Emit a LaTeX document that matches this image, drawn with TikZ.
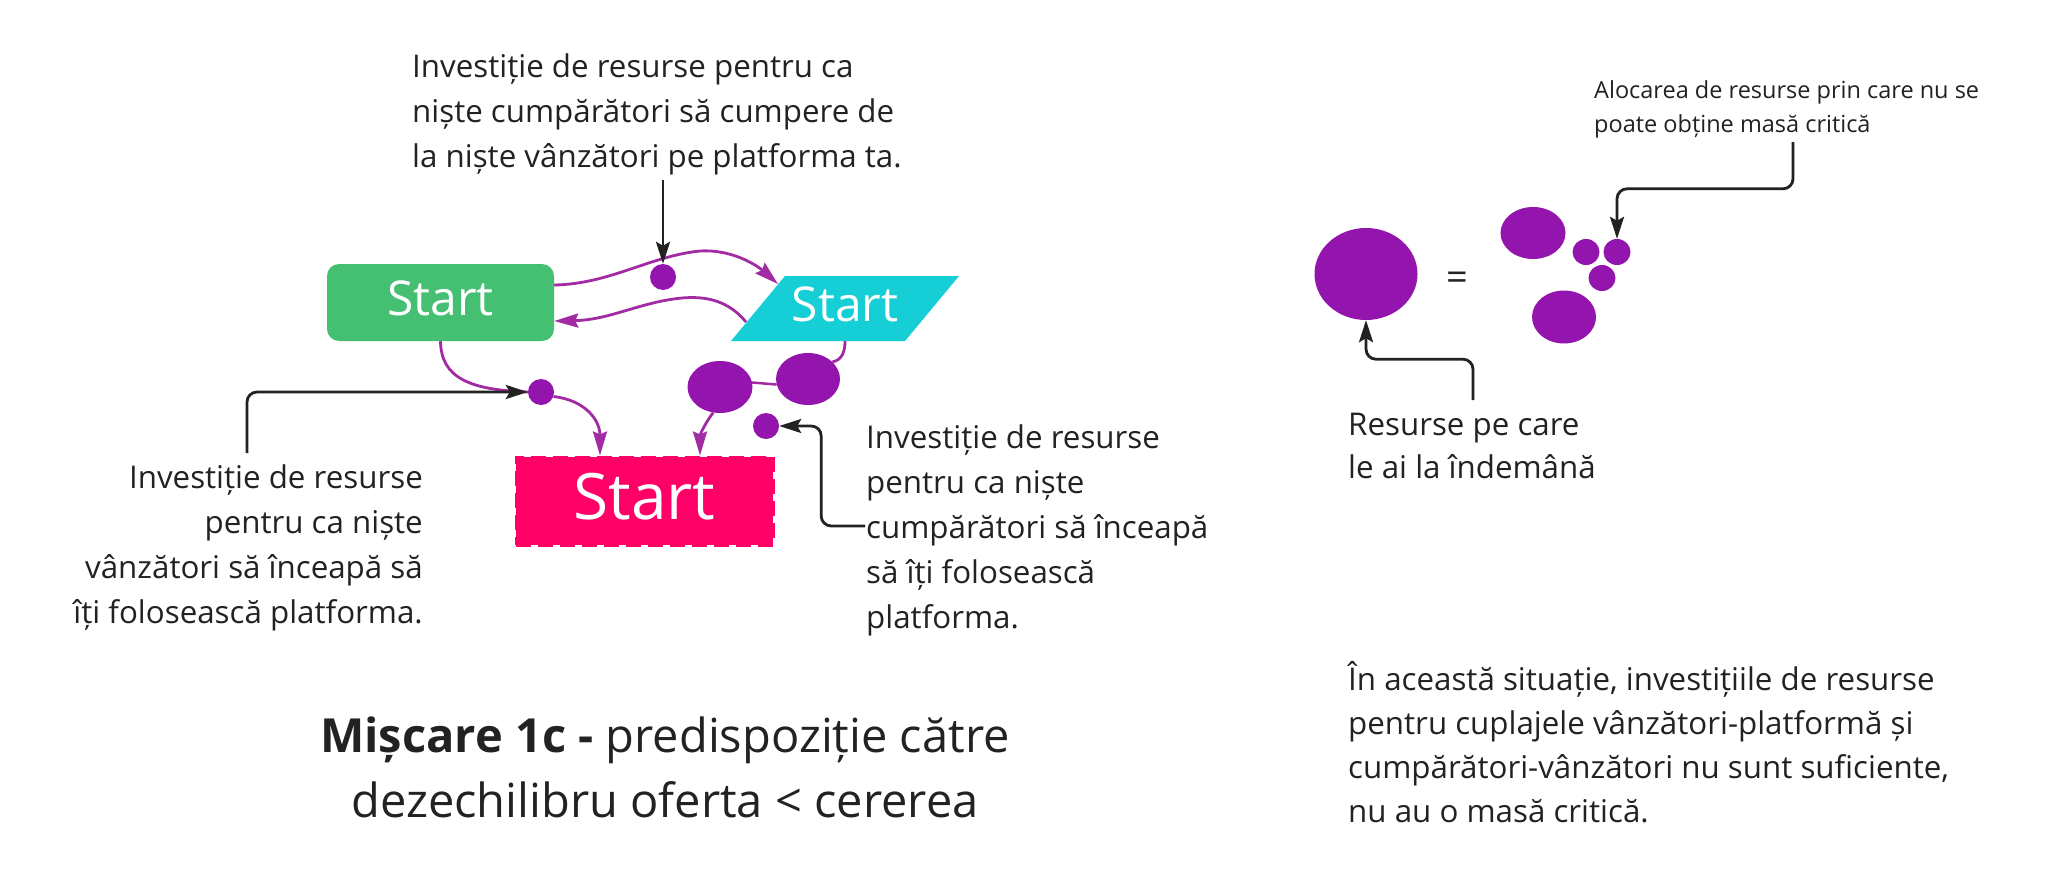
\documentclass[tikz,border=0pt]{standalone}
\usepackage{fontspec}
\setmainfont{Open Sans}
\usetikzlibrary{arrows.meta,shapes.geometric,backgrounds}
\definecolor{gr}{HTML}{45BF72}
\definecolor{cy}{HTML}{16CED6}
\definecolor{pk}{HTML}{FF0066}
\definecolor{pu}{HTML}{9414AE}
\definecolor{pl}{HTML}{A22BA3}
\definecolor{tx}{HTML}{222222}
\begin{document}
\begin{tikzpicture}[x=1pt,y=-1pt,
  pc/.style={draw=pl,line width=2.8pt,-{Stealth[length=24pt,width=14pt,inset=3pt]}},
  pcn/.style={draw=pl,line width=2.8pt},
  bc/.style={draw=tx,line width=2.8pt,rounded corners=10pt,-{Stealth[length=22pt,width=14pt,inset=4pt]}},
  dot/.style={circle,fill=pu,inner sep=0,minimum size=26pt},
  blob/.style={ellipse,fill=pu,inner sep=0},
  txt/.style={inner sep=0,text=tx,align=left,anchor=base west},
]
\useasboundingbox (0,0) rectangle (2060,894);

% shapes
\node[fill=gr,rounded corners=12pt,minimum width=227pt,minimum height=77pt,inner sep=0,
  text=white,font=\fontsize{48}{52}\selectfont,text depth=8pt] (g) at (440.5,302.5) {Start};
\fill[cy] (731,341) -- (785,276) -- (959,276) -- (905,341) -- cycle;
\node[inner sep=0,text=white,font=\fontsize{48}{52}\selectfont,text depth=8pt] (c) at (845,308.5) {Start};
\coordinate (cL) at (746,322);
\coordinate (cT) at (778,284);
\coordinate (cB) at (845,341);
\node[fill=pk,draw=pk,line width=3pt,dash pattern=on 15pt off 7pt,minimum width=257pt,
  minimum height=88pt,inner sep=0,text=white,font=\fontsize{64}{68}\selectfont,
  text depth=10pt] (p) at (644.5,501) {Start};

\node[dot] (d1) at (663,277) {};
\node[dot] (d2) at (541,392) {};
\node[dot] (d3) at (766,426) {};
\node[blob,minimum width=65pt,minimum height=52pt] (eA) at (720,387) {};
\node[blob,minimum width=64pt,minimum height=52pt] (eB) at (808,379) {};

% right side
\node[blob,minimum width=103pt,minimum height=92pt] (R) at (1366,274) {};
\node[inner sep=0,text=tx,font=\fontsize{38}{40}\selectfont] (eq) at (1457,281) {=};
\node[blob,minimum width=65pt,minimum height=52pt] (r1) at (1533,233) {};
\node[blob,minimum width=27pt,minimum height=26pt] (s1) at (1586,252) {};
\node[blob,minimum width=27pt,minimum height=26pt] (s2) at (1617,252) {};
\node[blob,minimum width=27pt,minimum height=26pt] (s3) at (1602,278) {};
\node[blob,minimum width=64pt,minimum height=53pt] (r2) at (1564,317) {};

% texts (base anchor = baseline of the last line)
\node[txt,font=\fontsize{31.3}{45}\selectfont] (t1) at (412,167)
  {Investiție de resurse pentru ca\\niște cumpărători să cumpere de\\la niște vânzători pe platforma ta.};
\node[txt,align=right,anchor=base east,font=\fontsize{31.3}{45}\selectfont] (t2) at (423,623)
  {Investiție de resurse\\pentru ca niște\\vânzători să înceapă să\\îți folosească platforma.};
\node[txt,font=\fontsize{31.3}{45}\selectfont] (t3) at (866,628)
  {Investiție de resurse\\pentru ca niște\\cumpărători să înceapă\\să îți folosească\\platforma.};
\node[txt,font=\fontsize{31.3}{42.5}\selectfont] (t4) at (1348,478)
  {Resurse pe care\\le ai la îndemână};
\node[txt,font=\fontsize{23.5}{34}\selectfont] (t5) at (1594,132)
  {Alocarea de resurse prin care nu se\\poate obține masă critică};
\node[txt,font=\fontsize{31.3}{43.8}\selectfont] (t6) at (1348,822)
  {În această situație, investițiile de resurse\\pentru cuplajele vânzători-platformă și\\cumpărători-vânzători nu sunt suficiente,\\nu au o masă critică.};
\node[txt,align=center,anchor=base,font=\fontsize{47}{65}\selectfont] (title) at (665,817)
  {\textbf{Mișcare 1c -} predispoziție către\\dezechilibru oferta < cererea};

% purple connectors (behind)
\begin{pgfonlayer}{background}
\fill[white] (0,0) rectangle (2060,894);
\draw[pc] ([yshift=17.5pt]g.east) .. controls (610,284) and (650,256) .. (700,251)
  .. controls (735,249) and (760,268) .. (cT);
\draw[pc] (cL) .. controls (728,300) and (705,296) .. (682,298)
  .. controls (640,302) and (610,320) .. ([yshift=-18.5pt]g.east);
\draw[pcn] (g.south) .. controls (441,378) and (470,390) .. (d2.west);
\draw[pc] (d2.-20) .. controls (585,400) and (600,420) .. ([xshift=-44.5pt]p.north);
\draw[pcn] (cB) .. controls (845,352) and (842,360) .. (eB.35);
\draw[pcn,line width=2.5pt] (eA.8) -- (eB.190);
\draw[pc] (eA.-105) .. controls (704,425) and (700,435) .. ([xshift=55.5pt]p.north);
\end{pgfonlayer}

% black connectors
\coordinate (t1a) at (663,180);
\draw[bc] (t1a) -- (d1.north);
\coordinate (t2a) at (247,453);
\draw[bc] (t2a) |- (d2.west);
\coordinate (t3a) at (865,526);
\draw[bc] (t3a) -| ([xshift=42pt]d3.east) -- (d3.east);
\coordinate (t5a) at (1793,142);
\draw[bc] (t5a) |- ([yshift=50pt]s2.north) -- (s2.north);
\coordinate (t4a) at (1473,400);
\draw[bc] (t4a) |- ([yshift=-39pt]R.south) -- (R.south);
\end{tikzpicture}
\end{document}
